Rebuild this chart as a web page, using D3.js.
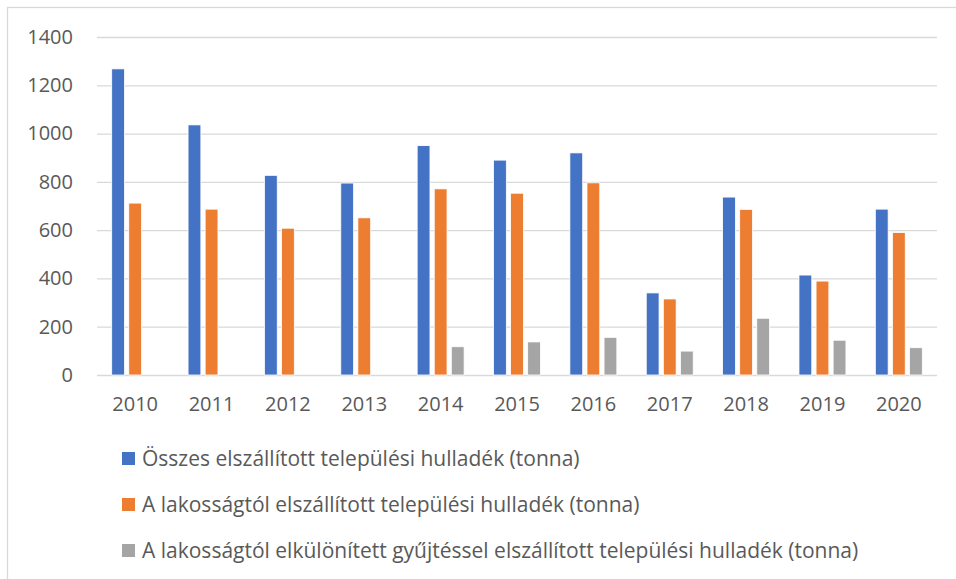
<!DOCTYPE html>
<html>
<head>
<meta charset="utf-8">
<script src="https://cdn.jsdelivr.net/npm/d3@7"></script>
<style>
  html, body { margin: 0; padding: 0; background: #fff; }
  svg { display: block; }
  text { font-family: "Open Sans", "Liberation Sans", Arial, sans-serif; fill: #595959; }
</style>
</head>
<body>
<svg id="chart"></svg>
<script>
// chart data
var years = ["2010","2011","2012","2013","2014","2015","2016","2017","2018","2019","2020"];
var seriesNames = [
  "Összes elszállított települési hulladék (tonna)",
  "A lakosságtól elszállított települési hulladék (tonna)",
  "A lakosságtól elkülönített gyűjtéssel elszállított települési hulladék (tonna)"
];
var osszes = [1268, 1036, 827, 795, 950, 890, 920, 340, 737, 414, 687];
var lakossagtol = [712, 687, 608, 651, 771, 753, 796, 315, 686, 389, 590];
var elkulonitett = [null, null, null, null, 117, 137, 156, 99, 235, 144, 113];
var yTicks = [0, 200, 400, 600, 800, 1000, 1200, 1400];
var colors = ["#4472C4", "#ED7D31", "#A5A5A5"];

var W = 956, H = 579;
var fontStack = "'Open Sans', 'Liberation Sans', Arial, sans-serif";
var svg = d3.select("#chart").attr("width", W).attr("height", H);

// outer frame
svg.append("rect")
  .attr("x", 7.5).attr("y", 7.5)
  .attr("width", W).attr("height", H)
  .attr("fill", "none").attr("stroke", "#d9d9d9").attr("stroke-width", 1.3);

var plot = {left: 97, right: 937, top: 37, bottom: 375};

var y = d3.scaleLinear().domain([0, 1400]).range([plot.bottom, plot.top]);
var x = d3.scaleBand().domain(years).range([plot.left, plot.right])
  .paddingInner(0.385).paddingOuter(0.1925);
var xs = d3.scaleBand().domain(d3.range(3)).range([0, x.bandwidth()]).paddingInner(0.25);

// gridlines + y labels
var yAxis = d3.axisLeft(y).tickValues(yTicks).tickFormat(d3.format("d"))
  .tickSize(-(plot.right - plot.left)).tickPadding(24);
var gy = svg.append("g").attr("transform", "translate(" + plot.left + ",0)").call(yAxis);
gy.select(".domain").remove();
gy.selectAll(".tick line").attr("stroke", "#d9d9d9").attr("stroke-width", 1.3);
gy.selectAll(".tick text").attr("font-size", 20).attr("fill", "#595959")
  .style("font-family", fontStack);

var allSeries = [osszes, lakossagtol, elkulonitett];
var barData = [];
allSeries.forEach(function(vals, s){
  vals.forEach(function(v, i){
    if (v != null) barData.push({s: s, year: years[i], v: v});
  });
});

svg.append("g").selectAll("rect").data(barData).enter().append("rect")
  .attr("x", function(d){ return x(d.year) + xs(d.s); })
  .attr("y", function(d){ return y(d.v); })
  .attr("width", xs.bandwidth())
  .attr("height", function(d){ return plot.bottom - y(d.v); })
  .attr("fill", function(d){ return colors[d.s]; })
  .attr("stroke", "#fff").attr("stroke-width", 0.8);

// x axis labels
var xAxis = d3.axisBottom(x).tickSize(0).tickPadding(22);
var gx = svg.append("g").attr("transform", "translate(0," + plot.bottom + ")").call(xAxis);
gx.select(".domain").remove();
gx.selectAll(".tick text").attr("font-size", 20).attr("fill", "#595959")
  .style("font-family", fontStack);

// legend
var legend = svg.append("g").selectAll("g").data(seriesNames).enter().append("g")
  .attr("transform", function(d, i){ return "translate(122," + (452 + i * 46) + ")"; });
legend.append("rect").attr("width", 13).attr("height", 13)
  .attr("fill", function(d, i){ return colors[i]; });
legend.append("text").attr("x", 20).attr("y", 6.5).attr("dy", "0.35em")
  .attr("font-size", 21).style("font-family", fontStack).text(function(d){ return d; });
</script>
</body>
</html>
